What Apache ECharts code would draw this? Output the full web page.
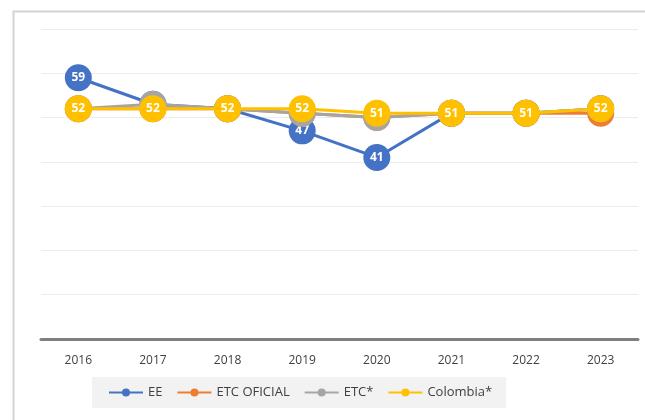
<!DOCTYPE html>
<html><head><meta charset="utf-8">
<script src="https://cdn.jsdelivr.net/npm/echarts@6/dist/echarts.min.js"></script>
<style>html,body{margin:0;padding:0;background:#fff;}#c{width:645px;height:420px;}</style>
</head><body><div id="c"></div>
<script>
const years = ['2016','2017','2018','2019','2020','2021','2022','2023'];
const eeValues = [59, 53, 52, 47, 41, 51, 51, 52];
const etcOficialValues = [52, 52, 52, 51, 50, 51, 51, 51];
const etcValues = [52, 53, 52, 51, 50, 51, 51, 52];
const colombiaValues = [52, 52, 52, 52, 51, 51, 51, 52];
const seriesNames = ['EE', 'ETC OFICIAL', 'ETC*', 'Colombia*'];
const seriesColors = ['#4472C4', '#ED7D31', '#A5A5A5', '#FFC000'];
const seriesData = [eeValues, etcOficialValues, etcValues, colombiaValues];

const chart = echarts.init(document.getElementById('c'), null, {renderer: 'canvas'});
const font = '"Open Sans", "Liberation Sans", sans-serif';
chart.setOption({
  animation: false,
  backgroundColor: '#fff',
  textStyle: {fontFamily: font},
  graphic: [{
    type: 'rect', left: 11, top: 9, z: -1,
    shape: {x: 0, y: 0, width: 660, height: 430},
    style: {fill: 'none', stroke: '#d4d4d4', lineWidth: 2}
  }],
  grid: {left: 41, right: 7, top: 29, bottom: 81},
  xAxis: {
    type: 'category', data: years, boundaryGap: true,
    axisLine: {lineStyle: {color: '#7f7f7f', width: 3}},
    axisTick: {show: false},
    axisLabel: {color: '#404040', fontSize: 12, margin: 16, fontFamily: font}
  },
  yAxis: {
    type: 'value', min: 0, max: 70, interval: 10,
    axisLabel: {show: false}, axisLine: {show: false}, axisTick: {show: false},
    splitLine: {lineStyle: {color: '#ececec', width: 1}}
  },
  legend: {
    data: seriesNames, bottom: 12, left: 92,
    backgroundColor: '#f2f2f2', padding: [9, 14, 9, 16],
    itemWidth: 34, itemHeight: 10, itemGap: 14,
    textStyle: {color: '#404040', fontSize: 13, fontFamily: font}
  },
  series: seriesData.map((d, i) => ({
    name: seriesNames[i], type: 'line', data: d,
    color: seriesColors[i],
    symbol: 'circle', symbolSize: 27,
    lineStyle: {width: 3, color: seriesColors[i]},
    itemStyle: {color: seriesColors[i]},
    label: {show: true, position: 'inside', color: '#fff', fontWeight: 'bold', fontSize: 12, fontFamily: font},
    z: 2 + i
  }))
});
</script></body></html>
